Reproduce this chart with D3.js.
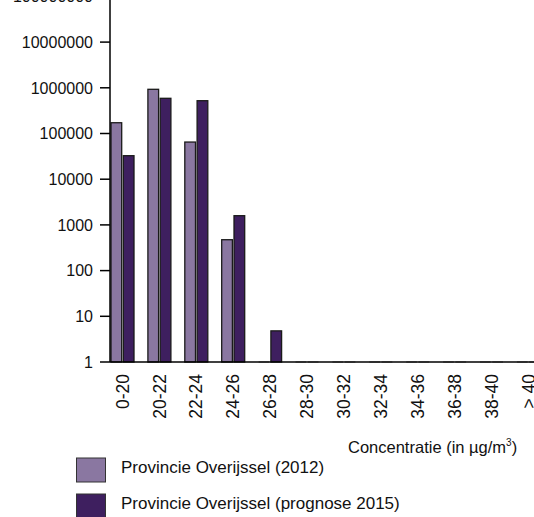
<!DOCTYPE html>
<html><head><meta charset="utf-8">
<script src="https://cdn.jsdelivr.net/npm/d3@7"></script>
<style>body{margin:0;background:#fff}svg{display:block;font-family:"Liberation Sans",Arial,sans-serif}</style>
</head><body><svg id="c" width="534" height="517"></svg>
<script>
const categories = ["0-20","20-22","22-24","24-26","26-28","28-30","30-32","32-34","34-36","36-38","38-40","> 40"];
const series2012 = [172000, 927000, 65000, 474, 0, 0, 0, 0, 0, 0, 0, 0];
const series2015 = [32700, 589000, 522000, 1590, 4.8, 0, 0, 0, 0, 0, 0, 0];
const seriesNames = ["Provincie Overijssel (2012)", "Provincie Overijssel (prognose 2015)"];
const colors = ["#8a77a1", "#3e1f5f"];
const yTicks = [1,10,100,1000,10000,100000,1000000,10000000,100000000];
const axisTitle = "Concentratie (in µg/m";

const svg = d3.select("#c");
const x0 = 110, yBase = 362, decade = 45.7;
const y = d3.scaleLog().domain([1, 1e8]).range([yBase, yBase - 8*decade]);
const step = 36.9, groupW = 23;
const x = d3.scaleBand().domain(categories).range([111, 111 + 11*step + groupW]).paddingInner(1 - groupW/step).paddingOuter(0);
const xs = d3.scaleBand().domain([0,1]).range([0, x.bandwidth()]).paddingInner(0.13);

const data = [series2012, series2015];
data.forEach((s, si) => {
  const g = svg.append("g");
  s.forEach((v, i) => {
    const bx = x(categories[i]) + xs(si);
    if (v > 0) {
      g.append("rect").attr("x", bx).attr("y", y(v)).attr("width", xs.bandwidth())
        .attr("height", yBase - y(v)).attr("fill", colors[si]).attr("stroke", "#1a1a1a").attr("stroke-width", 1.3);
    } else {
      g.append("line").attr("x1", bx).attr("x2", bx + xs.bandwidth()).attr("y1", yBase).attr("y2", yBase)
        .attr("stroke", "#999").attr("stroke-width", 1.5);
    }
  });
});

// y axis
svg.append("line").attr("x1", x0).attr("x2", x0).attr("y1", -5).attr("y2", yBase).attr("stroke", "#000").attr("stroke-width", 1.5);
const yg = svg.append("g");
yTicks.forEach(t => {
  yg.append("line").attr("x1", 100).attr("x2", x0).attr("y1", y(t)).attr("y2", y(t)).attr("stroke", "#000").attr("stroke-width", 1.5);
  yg.append("text").attr("x", 93).attr("y", y(t)).attr("dy", "0.36em").attr("text-anchor", "end")
    .attr("font-size", 16).attr("fill", "#111").text(t);
});
// x axis baseline
svg.append("line").attr("x1", x0).attr("x2", 534).attr("y1", yBase).attr("y2", yBase).attr("stroke", "#000").attr("stroke-width", 1.5);
// category labels
categories.forEach(c => {
  const cx = x(c) + x.bandwidth()/2;
  svg.append("text").attr("transform", `translate(${cx},374) rotate(-90)`).attr("text-anchor", "end")
    .attr("dy", "0.35em").attr("font-size", 17.5).attr("fill", "#111").text(c);
});
// axis title
const at = svg.append("text").attr("x", 348).attr("y", 453).attr("font-size", 16.5).attr("fill", "#111");
at.append("tspan").text(axisTitle);
at.append("tspan").attr("font-size", 10).attr("dy", -7).text("3");
at.append("tspan").attr("dy", 7).text(")");
// legend
seriesNames.forEach((n, i) => {
  const ly = 458 + i*36;
  svg.append("rect").attr("x", 76.5).attr("y", ly).attr("width", 29).attr("height", 24)
    .attr("fill", colors[i]).attr("stroke", "#333").attr("stroke-width", 1);
  svg.append("text").attr("x", 121).attr("y", ly + 14.5).attr("font-size", 17).attr("fill", "#111").text(n);
});
</script></body></html>
